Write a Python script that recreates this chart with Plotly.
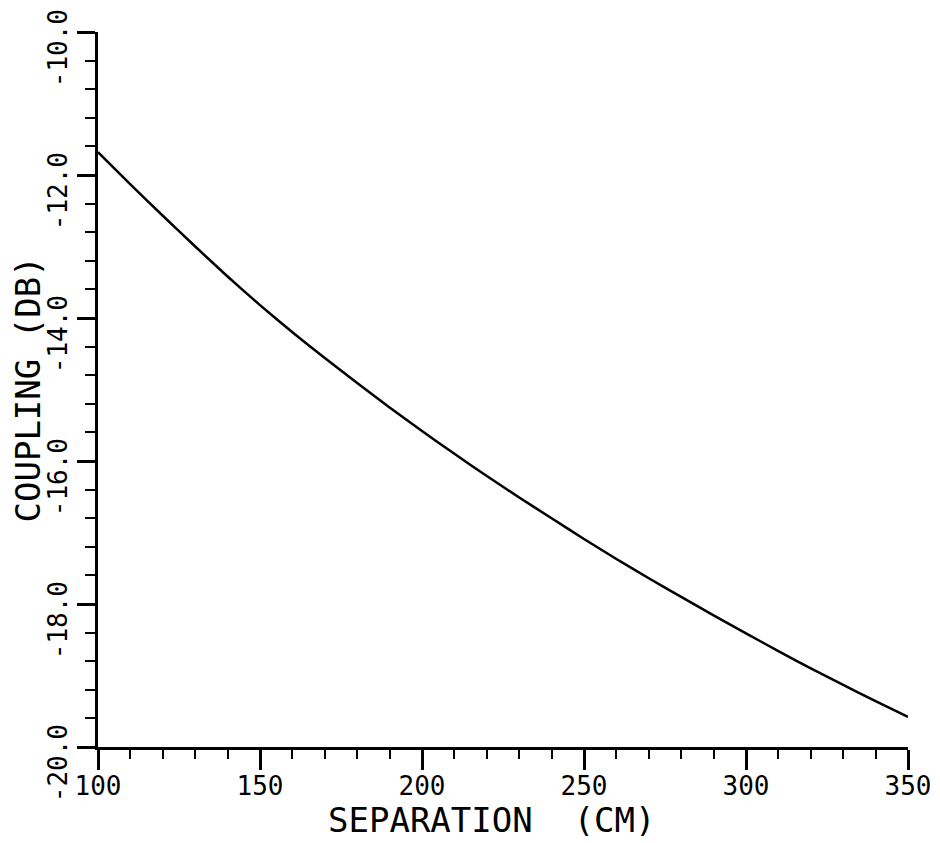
import plotly.graph_objects as go

# Data
separation_cm = [100, 110, 120, 130, 140, 150, 160, 170, 180, 190, 200, 210, 220, 230,
                 240, 250, 260, 270, 280, 290, 300, 310, 320, 330, 340, 350]
coupling_db = [-11.68, -12.13, -12.57, -13.00, -13.42, -13.82, -14.20, -14.56, -14.91,
               -15.25, -15.58, -15.90, -16.21, -16.51, -16.80, -17.09, -17.37, -17.64,
               -17.90, -18.16, -18.41, -18.66, -18.90, -19.13, -19.36, -19.58]

x_tick_vals = [100, 150, 200, 250, 300, 350]
x_tick_text = ["100", "150", "200", "250", "300", "350"]
y_tick_vals = [-20, -18, -16, -14, -12, -10]
y_tick_text = ["-20.0", "-18.0", "-16.0", "-14.0", "-12.0", "-10.0"]
x_title = "SEPARATION  (CM)"
y_title = "COUPLING (DB)"

FONT = "DejaVu Sans Mono"

fig = go.Figure()
fig.add_trace(go.Scatter(
    x=separation_cm, y=coupling_db, mode="lines",
    line=dict(color="black", width=2.5, shape="spline", smoothing=0.5),
    showlegend=False, hoverinfo="skip",
))

fig.update_layout(
    width=924, height=843,
    margin=dict(l=90, r=24, t=24, b=104, autoexpand=False),
    paper_bgcolor="white", plot_bgcolor="white",
    font=dict(family=FONT, color="black"),
    showlegend=False,
)

fig.update_xaxes(
    range=[100, 350], showgrid=False, zeroline=False,
    showline=True, linecolor="black", linewidth=3,
    ticks="outside", ticklen=20, tickwidth=2.5, tickcolor="black",
    tickvals=x_tick_vals, ticktext=x_tick_text,
    ticklabelstandoff=-6,
    tickfont=dict(family=FONT, size=26, color="black"),
    minor=dict(dtick=10, tick0=100, ticks="outside", ticklen=9, tickwidth=2, tickcolor="black"),
    automargin=False,
)

fig.update_yaxes(
    range=[-20, -10], showgrid=False, zeroline=False,
    showline=True, linecolor="black", linewidth=3,
    ticks="outside", ticklen=18, tickwidth=2.5, tickcolor="black",
    tickvals=y_tick_vals, ticktext=y_tick_text,
    tickangle=-90, ticklabelshift=20,
    tickfont=dict(family=FONT, size=26, color="black"),
    minor=dict(dtick=0.4, tick0=-20, ticks="outside", ticklen=10, tickwidth=2, tickcolor="black"),
    automargin=False,
)

# Axis titles
fig.add_annotation(
    text=x_title, xref="paper", yref="paper", x=0.4864, y=0,
    xanchor="center", yanchor="middle", yshift=-73, showarrow=False,
    font=dict(family=FONT, size=34, color="black"),
)
fig.add_annotation(
    text=y_title, xref="paper", yref="paper", x=0, y=0.5, textangle=-90,
    xanchor="center", yanchor="middle", xshift=-71, showarrow=False,
    font=dict(family=FONT, size=34, color="black"),
)

fig.write_html("out.html")
